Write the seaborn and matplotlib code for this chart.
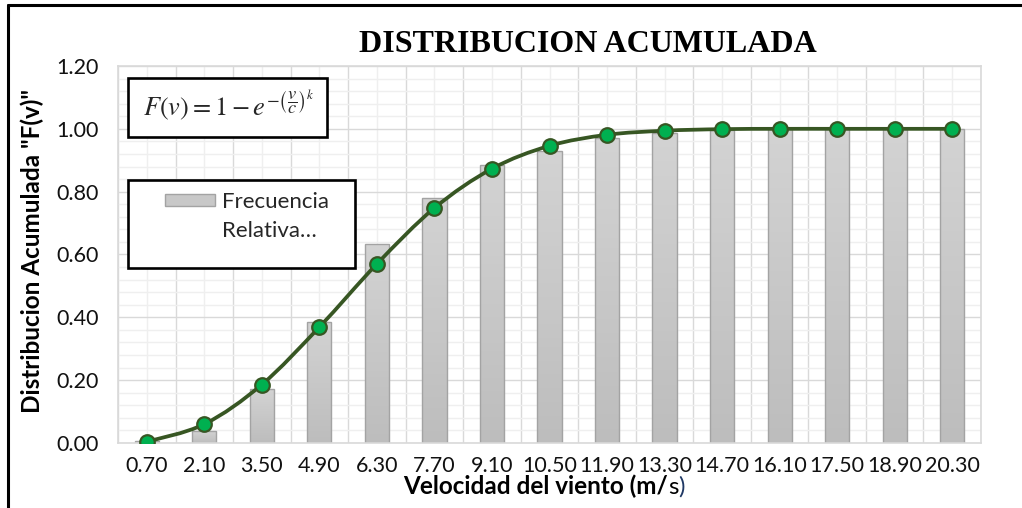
import numpy as np
import matplotlib
matplotlib.use("Agg")
import matplotlib.pyplot as plt
from matplotlib.patches import Rectangle, Patch, PathPatch
from matplotlib.path import Path
from matplotlib.lines import Line2D
from matplotlib.colors import LinearSegmentedColormap
from matplotlib.ticker import MultipleLocator, FormatStrFormatter
import seaborn as sns

# Wind speed classes (m/s) and cumulative values
velocidad = ["0.70", "2.10", "3.50", "4.90", "6.30", "7.70", "9.10", "10.50",
             "11.90", "13.30", "14.70", "16.10", "17.50", "18.90", "20.30"]
frecuencia_relativa_acum = [0.007, 0.038, 0.171, 0.384, 0.634, 0.780, 0.885, 0.931,
                            0.970, 0.988, 0.995, 0.998, 0.999, 1.000, 1.000]
weibull_acum = [0.004, 0.060, 0.186, 0.369, 0.570, 0.748, 0.873, 0.946,
                0.981, 0.994, 0.999, 1.000, 1.000, 1.000, 1.000]

sns.set_theme(style="white")
plt.rcParams["font.family"] = ["Lato", "DejaVu Sans"]
plt.rcParams["mathtext.fontset"] = "stix"

W, H = 1022, 508
fig = plt.figure(figsize=(W / 100, H / 100), dpi=100)
fig.patch.set_facecolor("white")

# plot area in pixel terms
px_l, px_r, px_t, px_b = 118, 981, 66, 443
ax = fig.add_axes([px_l / W, 1 - px_b / H, (px_r - px_l) / W, (px_b - px_t) / H])

df_bars = {"v": velocidad, "f": frecuencia_relativa_acum}
sns.barplot(x="v", y="f", data=df_bars, ax=ax, width=0.42, color="#c8c8c8",
            edgecolor="#a3a3a3", linewidth=1.0, saturation=1)

ax.set_xlim(-0.5, len(velocidad) - 0.5)
ax.set_ylim(0, 1.2)

# vertical gradient fill for the bars
grad_cmap = LinearSegmentedColormap.from_list("g", ["#bdbdbd", "#d3d3d3"])
grad = np.linspace(0, 1, 64).reshape(-1, 1)
for bar in list(ax.patches):
    x0, y0 = bar.get_x(), bar.get_y()
    w, h = bar.get_width(), bar.get_height()
    im = ax.imshow(grad, extent=[x0, x0 + w, y0, y0 + h], origin="lower",
                   aspect="auto", cmap=grad_cmap, zorder=bar.get_zorder() - 0.01)
    im.set_clip_path(bar)
    bar.set_facecolor("none")
ax.set_xlim(-0.5, len(velocidad) - 0.5)
ax.set_ylim(0, 1.2)

# smoothed curve through the Weibull points (Catmull-Rom as cubic Bezier)
xs = np.arange(len(velocidad), dtype=float)
ys = np.array(weibull_acum, dtype=float)
pts = np.column_stack([xs, ys])
verts = [pts[0]]
codes = [Path.MOVETO]
n = len(pts)
for i in range(n - 1):
    p0 = pts[i - 1] if i > 0 else pts[i]
    p1 = pts[i]
    p2 = pts[i + 1]
    p3 = pts[i + 2] if i + 2 < n else pts[i + 1]
    c1 = p1 + (p2 - p0) / 6.0
    c2 = p2 - (p3 - p1) / 6.0
    verts += [c1, c2, p2]
    codes += [Path.CURVE4] * 3
ax.add_patch(PathPatch(Path(verts, codes), facecolor="none", edgecolor="#375623",
                       lw=2.7, zorder=3, capstyle="round", joinstyle="round"))
sns.scatterplot(x=xs, y=ys, ax=ax, s=110, color="#00b050", edgecolor="#375623",
                linewidth=1.6, zorder=4, legend=False)

# grid
ax.set_axisbelow(True)
ax.yaxis.set_major_locator(MultipleLocator(0.2))
ax.yaxis.set_minor_locator(MultipleLocator(0.04))
ax.yaxis.set_major_formatter(FormatStrFormatter("%.2f"))
ax.set_xticks(np.arange(-0.5, len(velocidad), 1.0), minor=True)
ax.yaxis.grid(True, which="major", color="#d9d9d9", lw=1.0)
ax.yaxis.grid(True, which="minor", color="#efefef", lw=1.0)
ax.xaxis.grid(True, which="minor", color="#d9d9d9", lw=1.0)
ax.xaxis.grid(True, which="major", color="#efefef", lw=1.0)
for s in ax.spines.values():
    s.set_color("#d9d9d9")
    s.set_linewidth(1.2)

ax.tick_params(axis="both", which="both", length=0, labelsize=15.5, colors="#111111")
ax.tick_params(axis="y", pad=14)
ax.tick_params(axis="x", pad=9)
ax.set_xlabel("")
ax.set_ylabel('Distribucion Acumulada "F(v)"', fontsize=17.5, fontweight="bold",
              color="black")
ax.yaxis.set_label_coords((44 - px_l) / (px_r - px_l), (px_b - 251) / (px_b - px_t))

# title
fig.text(588 / W, 1 - 45 / H, "DISTRIBUCION ACUMULADA", ha="center", va="center",
         fontsize=23, fontweight="bold", family="Liberation Serif", color="black")

# x axis title in three runs
t1 = fig.text(403 / W, 1 - 498 / H, "Velocidad del viento (m/", ha="left", va="bottom",
              fontsize=17.5, fontweight="bold", color="black")
t2 = ax.annotate("s", xy=(1, 0), xycoords=t1, ha="left", va="bottom",
                 fontsize=17.5, color="black", annotation_clip=False)
ax.annotate(")", xy=(1, 0), xycoords=t2, ha="left", va="bottom",
            fontsize=17.5, color="#1f3864", annotation_clip=False)

# equation box
def axfrac(px, py):
    return (px - px_l) / (px_r - px_l), (px_b - py) / (px_b - px_t)

ex0, ey1 = axfrac(128, 78)
ex1, ey0 = axfrac(327, 137)
ax.add_patch(Rectangle((ex0, ey0), ex1 - ex0, ey1 - ey0, transform=ax.transAxes,
                       facecolor="white", edgecolor="black", lw=1.9, zorder=6,
                       clip_on=False))
ecx, ecy = axfrac(229, 106)
ax.text(ecx, ecy, r"$F(v) = 1 - e^{-\left(\dfrac{v}{c}\right)^{k}}$",
        transform=ax.transAxes, ha="center", va="center", fontsize=19, zorder=7)

# legend box
lx0, ly1 = axfrac(128, 180)
lx1, ly0 = axfrac(355, 268)
ax.add_patch(Rectangle((lx0, ly0), lx1 - lx0, ly1 - ly0, transform=ax.transAxes,
                       facecolor="white", edgecolor="black", lw=1.9, zorder=6,
                       clip_on=False))
handles = [Patch(facecolor="#c8c8c8", edgecolor="#a3a3a3", lw=1.0),
           Patch(facecolor="none", edgecolor="none")]
ancx, ancy = axfrac(165, 192)
leg = ax.legend(handles, ["Frecuencia", "Relativa…"], loc="upper left",
                bbox_to_anchor=(ancx, ancy), bbox_transform=ax.transAxes,
                frameon=False, fontsize=16, borderpad=0, borderaxespad=0,
                handlelength=2.25, handleheight=0.45, handletextpad=0.3,
                labelspacing=0.42)
leg.set_zorder(7)

# outer frame lines
fig.add_artist(Line2D([8 / W, 8 / W], [0, 1 - 5 / H], transform=fig.transFigure,
                      color="black", lw=2.2))
fig.add_artist(Line2D([8 / W, 1], [1 - 5 / H, 1 - 5 / H], transform=fig.transFigure,
                      color="black", lw=2.2))

fig.savefig("out.png", dpi=100, facecolor="white")
